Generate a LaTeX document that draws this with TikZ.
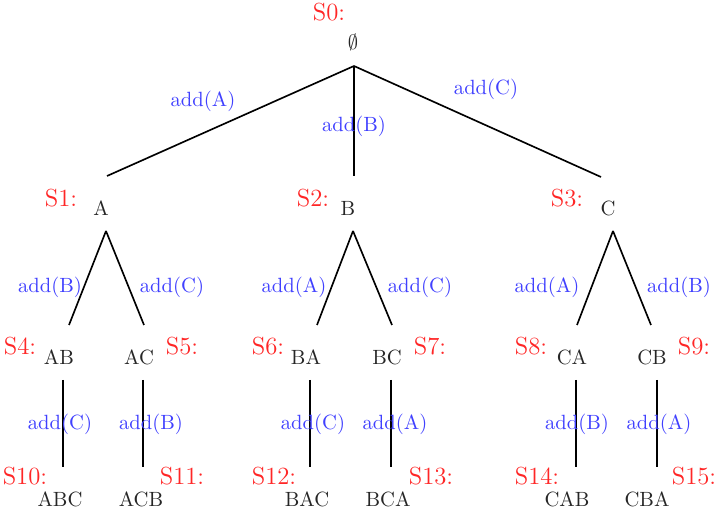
\documentclass[tikz,border=0pt]{standalone}
\begin{document}
\begin{tikzpicture}[x=0.4854pt,y=-0.4854pt,
  st/.style={text=red!85,font=\large,anchor=base,inner sep=0pt},
  lbl/.style={text=blue!75,anchor=base,inner sep=0pt},
  nd/.style={text=black!85,anchor=base,inner sep=0pt},
  edge/.style={thick,black}]
\useasboundingbox (0,0) rectangle (717,509);
% level 0
\node[st] (s0) at (329,21) {S0:};
\node[nd] (n0) at (353,50) {$\emptyset$};
\coordinate (r) at (354,66);
% level 1
\node[st] (s1) at (61,207) {S1:};
\node[nd] (nA) at (101,216) {A};
\node[st] (s2) at (313,207) {S2:};
\node[nd] (nB) at (348,216) {B};
\node[st] (s3) at (567,207) {S3:};
\node[nd] (nC) at (608,216) {C};
\coordinate (rA) at (107,176);
\coordinate (rB) at (354,176);
\coordinate (rC) at (601,177);
\draw[edge] (r) -- (rA);
\draw[edge] (r) -- (rB);
\draw[edge] (r) -- (rC);
\node[lbl] (l0a) at (203,107) {add(A)};
\node[lbl] (l0b) at (354,132) {add(B)};
\node[lbl] (l0c) at (486,95) {add(C)};
% level 2
\coordinate (tA) at (106,231);
\coordinate (tB) at (353,231);
\coordinate (tC) at (613,231);
\coordinate (eAB) at (69,325);
\coordinate (eAC) at (144,325);
\coordinate (eBA) at (317,325);
\coordinate (eBC) at (392,325);
\coordinate (eCA) at (577,325);
\coordinate (eCB) at (651,325);
\draw[edge] (tA) -- (eAB);
\draw[edge] (tA) -- (eAC);
\draw[edge] (tB) -- (eBA);
\draw[edge] (tB) -- (eBC);
\draw[edge] (tC) -- (eCA);
\draw[edge] (tC) -- (eCB);
\node[lbl] (l1a) at (50,293) {add(B)};
\node[lbl] (l1b) at (172,293) {add(C)};
\node[lbl] (l1c) at (294,293) {add(A)};
\node[lbl] (l1d) at (420,293) {add(C)};
\node[lbl] (l1e) at (547,293) {add(A)};
\node[lbl] (l1f) at (679,293) {add(B)};
\node[st] (s4) at (20,355) {S4:};
\node[nd] (nAB) at (59,365) {AB};
\node[nd] (nAC) at (139,365) {AC};
\node[st] (s5) at (182,355) {S5:};
\node[st] (s6) at (268,355) {S6:};
\node[nd] (nBA) at (306,365) {BA};
\node[nd] (nBC) at (387,365) {BC};
\node[st] (s7) at (430,355) {S7:};
\node[st] (s8) at (531,355) {S8:};
\node[nd] (nCA) at (572,365) {CA};
\node[nd] (nCB) at (652,365) {CB};
\node[st] (s9) at (694,355) {S9:};
% level 3
\coordinate (tAB) at (63,380); \coordinate (bAB) at (63,467);
\coordinate (tAC) at (143,380); \coordinate (bAC) at (143,467);
\coordinate (tBA) at (310,380); \coordinate (bBA) at (310,467);
\coordinate (tBC) at (391,380); \coordinate (bBC) at (391,467);
\coordinate (tCA) at (576,380); \coordinate (bCA) at (576,467);
\coordinate (tCB) at (657,380); \coordinate (bCB) at (657,467);
\draw[edge] (tAB) -- (bAB);
\draw[edge] (tAC) -- (bAC);
\draw[edge] (tBA) -- (bBA);
\draw[edge] (tBC) -- (bBC);
\draw[edge] (tCA) -- (bCA);
\draw[edge] (tCB) -- (bCB);
\node[lbl] (l2a) at (60,430) {add(C)};
\node[lbl] (l2b) at (151,430) {add(B)};
\node[lbl] (l2c) at (313,430) {add(C)};
\node[lbl] (l2d) at (395,430) {add(A)};
\node[lbl] (l2e) at (577,430) {add(B)};
\node[lbl] (l2f) at (659,430) {add(A)};
\node[st] (s10) at (25,485) {S10:};
\node[nd] (nABC) at (60,507) {ABC};
\node[nd] (nACB) at (141,507) {ACB};
\node[st] (s11) at (182,485) {S11:};
\node[st] (s12) at (274,485) {S12:};
\node[nd] (nBAC) at (307,507) {BAC};
\node[nd] (nBCA) at (388,507) {BCA};
\node[st] (s13) at (431,485) {S13:};
\node[st] (s14) at (537,485) {S14:};
\node[nd] (nCAB) at (567,507) {CAB};
\node[nd] (nCBA) at (647,507) {CBA};
\node[st] (s15) at (694,485) {S15:};
\end{tikzpicture}
\end{document}
